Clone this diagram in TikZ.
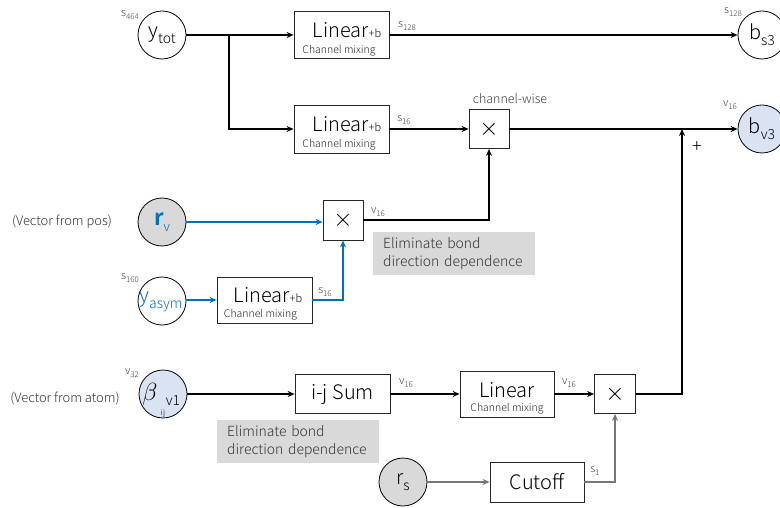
\documentclass[tikz,border=0pt]{standalone}
\usepackage{fontspec}
\setmainfont{Noto Sans CJK JP}[UprightFont=* Light, BoldFont=* Bold]
\usetikzlibrary{arrows.meta,calc}
\definecolor{myblue}{RGB}{0,112,192}
\definecolor{lblue}{RGB}{218,227,243}
\definecolor{lgray}{RGB}{217,217,217}
\definecolor{arrgray}{RGB}{118,118,118}
\newcommand\fs[1]{\fontsize{#1}{#1}\selectfont}
\newcommand\sbx[2]{\raisebox{-0.3em}{\fs{#1}#2}}
\tikzset{
  box/.style={draw=black!85, line width=0.8pt, fill=white, inner sep=0pt},
  circ/.style={draw=black, line width=0.8pt, circle, minimum size=48bp, inner sep=0pt},
  lbl/.style={text=black!75, inner sep=0pt, font=\fs{11}},
  arr/.style={-{Stealth[length=7pt,width=6pt]}, line width=1.8pt},
  barr/.style={arr, draw=myblue},
  garr/.style={arr, draw=arrgray},
  note/.style={fill=lgray, text=black!80, align=left, inner sep=0pt, anchor=north west, minimum width=162bp, minimum height=43bp, text width=160bp, font=\fontsize{14}{18}\selectfont},
  big/.style={inner sep=0pt, font=\fs{20}},
  small/.style={inner sep=0pt, font=\fs{10.5}, text=black!85}
}
\begin{document}
\begin{tikzpicture}[x=1bp,y=-1bp]
\useasboundingbox (0,0) rectangle (780,508);

% circles
\node[circ] (ytot) at (162,35) {\fs{20}y\sbx{14}{tot}};
\node[circ] (bs3) at (762,35) {\fs{20}b\sbx{14}{s3}};
\node[circ, fill=lblue] (bv3) at (762,129) {\fs{20}b\sbx{14}{v3}};
\node[circ, fill=lgray] (rv) at (162,222) {\color{myblue}\fs{22}\textbf{r}\sbx{13}{v}};
\node[circ] (yasym) at (162,301) {};
\node[inner sep=0pt, text=myblue] (yasymtxt) at (161,302) {\fs{20}y\sbx{14}{asym}};
\node[circ, fill=lblue] (beta) at (163,394) {};
\node[inner sep=0pt] (betasym) at (150,394) {\fs{26}$\beta$};
\node[inner sep=0pt] (betav) at (173,401) {\fs{14}v1};
\node[inner sep=0pt] (betaij) at (163,413) {\fs{8}ij};
\node[circ, fill=lgray] (rs) at (403,482) {\fs{20}r\sbx{14}{s}};

% boxes
\node[box, minimum width=95bp, minimum height=47bp] (lin1) at (341.5,35) {};
\node[big, anchor=base] (lin1t) at (347,37.5) {Linear\fs{11}+b};
\node[small] (lin1c) at (339,51) {Channel mixing};

\node[box, minimum width=95bp, minimum height=48bp] (lin2) at (341.5,129) {};
\node[big, anchor=base] (lin2t) at (347,131.5) {Linear\fs{11}+b};
\node[small] (lin2c) at (339,145) {Channel mixing};

\node[box, minimum width=95bp, minimum height=46bp] (lin3) at (264.5,300) {};
\node[big, anchor=base] (lin3t) at (268,303) {Linear\fs{11}+b};
\node[small] (lin3c) at (260.5,315) {Channel mixing};

\node[box, minimum width=95bp, minimum height=39bp] (ij) at (342.5,394) {\fs{20}i-j Sum};

\node[box, minimum width=94bp, minimum height=46bp] (lin4) at (507,394) {};
\node[big, anchor=base] (lin4t) at (507,397) {Linear};
\node[small] (lin4c) at (507,409) {Channel mixing};

\node[box, minimum width=94bp, minimum height=40bp] (cut) at (537,482) {\fs{20}Cutoff};

\node[box, minimum width=40bp, minimum height=39bp] (m1) at (489,129) {\fs{24}$\times$};
\node[box, minimum width=40bp, minimum height=40bp] (m2) at (343,220) {\fs{24}$\times$};
\node[box, minimum width=41bp, minimum height=39bp] (m3) at (615,394) {\fs{24}$\times$};

% notes
\node[note] (note1) at (373,232) {\hspace*{9bp}Eliminate bond\\\hspace*{9bp}direction dependence};
\node[note] (note2) at (217,420) {\hspace*{9bp}Eliminate bond\\\hspace*{9bp}direction dependence};

% side texts
\node[inner sep=0pt, text=black!80, font=\fs{13}] (vpos) at (62,222) {(Vector from pos)};
\node[inner sep=0pt, text=black!80, font=\fs{13}] (vatom) at (65,399) {(Vector from atom)};

% labels
\node[lbl] (l1) at (130,15) {s\sbx{8}{464}};
\node[lbl] (l2) at (407,26) {s\sbx{8}{128}};
\node[lbl] (l3) at (733,12) {s\sbx{8}{128}};
\node[lbl, font=\fs{12.5}] (l4) at (510,99) {channel-wise};
\node[lbl] (l5) at (404,120) {s\sbx{8}{16}};
\node[lbl] (l6) at (730,105) {v\sbx{8}{16}};
\node[inner sep=0pt, font=\fs{18}] (plus) at (697,147) {+};
\node[lbl] (l7) at (378,212) {v\sbx{8}{16}};
\node[lbl] (l8) at (325,292) {s\sbx{8}{16}};
\node[lbl] (l9) at (130,278) {s\sbx{8}{160}};
\node[lbl] (l10) at (132,373) {v\sbx{8}{32}};
\node[lbl] (l11) at (406,383) {v\sbx{8}{16}};
\node[lbl] (l12) at (569,383) {v\sbx{8}{16}};
\node[lbl] (l13) at (595,471) {s\sbx{8}{1}};

% connectors
\coordinate (br) at (229,35);
\coordinate (jn) at (682,129);
\draw[arr] (ytot.east) -- (lin1.west);
\draw[arr] (br) |- (lin2.west);
\draw[arr] (lin1.east) -- (bs3.west);
\draw[arr] (lin2.east) -- (m1.west);
\draw[arr] (m1.east) -- (bv3.west);
\draw[arr] (m2.east) -| (m1.south);
\draw[barr] (rv.east) -- (m2.west |- rv.east);
\draw[barr] (yasym.east |- lin3.west) -- (lin3.west);
\draw[barr] (lin3.east) -| (m2.south);
\draw[arr] (beta.east) -- (ij.west);
\draw[arr] (ij.east) -- (lin4.west);
\draw[arr] (lin4.east) -- (m3.west);
\draw[arr] (m3.east) -| (jn);
\draw[garr] (rs.east) -- (cut.west);
\draw[garr] (cut.east) -| (m3.south);
\end{tikzpicture}
\end{document}
